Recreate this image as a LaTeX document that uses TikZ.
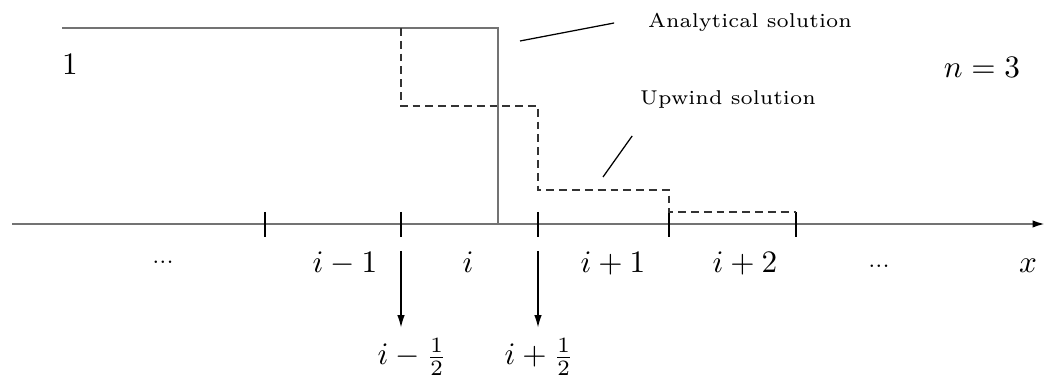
\documentclass[tikz,border=0pt]{standalone}
\usetikzlibrary{arrows.meta}
\begin{document}
\begin{tikzpicture}[x=0.32pt, y=-0.32pt,
  axisline/.style={black!55, line width=0.65pt},
  tickmark/.style={black, line width=0.35pt},
  upwindline/.style={black!80, line width=0.4pt, dash pattern=on 2.5pt off 1.6pt},
  leader/.style={black, line width=0.4pt},
  cell/.style={anchor=base, font=\normalsize},
  note/.style={font=\fontsize{6.4}{8}\selectfont}]
  \useasboundingbox (0,0) rectangle (1055,377);

  % ────────────────────────────────────────────────────────────────────
  % x axis with cell faces
  % ────────────────────────────────────────────────────────────────────
  \coordinate (xstart) at (12,224);
  \coordinate (xend)   at (1045,224);
  \draw[axisline, -{Latex[length=4pt, width=2.4pt, color=black]}] (xstart) -- (xend);

  \foreach \x [count=\k] in {265,401,538,669,796} {
    \coordinate (face\k) at (\x,224);
    \draw[tickmark] (\x,212) -- (\x,237);
  }

  % ────────────────────────────────────────────────────────────────────
  % Analytical (solid) and upwind (dashed) solutions
  % ────────────────────────────────────────────────────────────────────
  \draw[axisline] (62,28) -- (498,28) -- (498,224);
  \draw[upwindline] (401,28) -- (401,106) -- (538,106) -- (538,190)
    -- (669,190) -- (669,212) -- (796,212);

  \node[cell] (one)   at (70,75)  {$1$};
  \node[cell] (count) at (982,78) {$n=3$};

  % labels with leader lines
  \node[note] (analytic) at (750,22)  {Analytical solution};
  \node[note] (upwind)   at (728,100) {Upwind solution};
  \coordinate (aend) at (520,41);
  \coordinate (uend) at (603,177);
  \draw[leader] ([shift={(-23,1)}]analytic.west) -- (aend);
  \draw[leader] ([shift={(3,16)}]upwind.south west) -- (uend);

  % ────────────────────────────────────────────────────────────────────
  % cell indices
  % ────────────────────────────────────────────────────────────────────
  \node[anchor=base, font=\scriptsize] (ldots) at (163,264) {...};
  \node[cell] (cim) at (345,273)  {$i-1$};
  \node[cell] (ci)  at (468,273)  {$i$};
  \node[cell] (cip) at (613,273)  {$i+1$};
  \node[cell] (cipp) at (745,273) {$i+2$};
  \node[anchor=base, font=\scriptsize] (rdots) at (879,268) {...};
  \node[cell] (xlab) at (1028,273) {$x$};

  % ────────────────────────────────────────────────────────────────────
  % half-index faces
  % ────────────────────────────────────────────────────────────────────
  \node[cell] (fminus) at (412,365) {$i-\frac{1}{2}$};
  \node[cell] (fplus)  at (539,365) {$i+\frac{1}{2}$};
  \coordinate (fmtop) at (401,251);
  \coordinate (fptop) at (538,251);
  \draw[-{Latex[length=4pt, width=2.4pt]}] (fmtop) -- (fmtop |- fminus.north);
  \draw[-{Latex[length=4pt, width=2.4pt]}] (fptop) -- (fptop |- fplus.north);

\end{tikzpicture}
\end{document}
